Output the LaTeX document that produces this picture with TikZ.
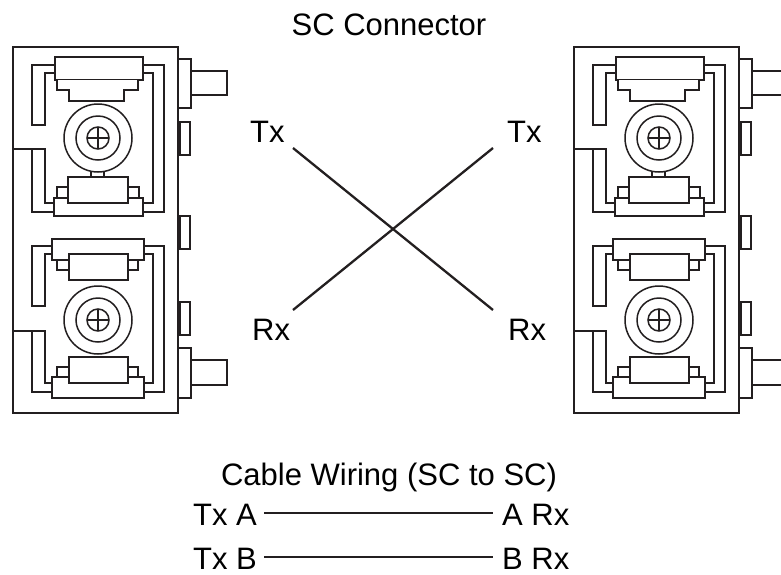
\documentclass[tikz,border=0pt]{standalone}
\usepackage{fontspec}
\setmainfont{Liberation Sans}
\usetikzlibrary{calc}
\definecolor{ink}{RGB}{35,31,32}
\newcommand\drawSCunit{%
  % housing and tabs
  \draw[part] (13,47) rectangle (178,413);
  \draw[part] (191,71) rectangle (227,95);
  \draw[part] (178,59) rectangle (191,108);
  \draw[part] (180,122) rectangle (190,155);
  \draw[part] (180,216) rectangle (190,249);
  \draw[part] (180,302) rectangle (190,335);
  \draw[part] (191,360) rectangle (227,385);
  \draw[part] (178,348) rectangle (191,398);
  % upper ferrule unit
  \draw[ln] (55,65) -- (32,65) -- (32,125) -- (45,125) -- (45,73) -- (55,73);
  \draw[ln] (143,65) -- (164,65) -- (164,212) -- (143,212);
  \draw[ln] (143,73) -- (153,73) -- (153,203) -- (143,203);
  \draw[ln] (13,149) -- (45,149) -- (45,203) -- (54,203);
  \draw[ln] (32,149) -- (32,212) -- (54,212);
  \draw[part] (55,57) rectangle (143,80);
  \draw[part] (57,80) -- (57,90) -- (69,90) -- (69,101) -- (124,101) -- (124,90) -- (138,90) -- (138,80);
  \draw[ln] (98,138) circle (34);
  \draw[ln] (98,138) circle (22);
  \draw[ln] (98,138) circle (11);
  \draw[ln] (87,138) -- (109,138) (98,127) -- (98,149);
  \draw[ln] (91,171.3) -- (91,177) (104,171.5) -- (104,177);
  \draw[part] (54,198) rectangle (143,216);
  \draw[part] (57,187) rectangle (68,198);
  \draw[part] (128,187) rectangle (139,198);
  \draw[part] (68,177) rectangle (128,203);
  % lower ferrule unit
  \draw[ln] (52,246) -- (32,246) -- (32,306) -- (45,306) -- (45,254) -- (52,254);
  \draw[ln] (144,246) -- (164,246) -- (164,392) -- (144,392);
  \draw[ln] (144,254) -- (153,254) -- (153,383) -- (144,383);
  \draw[ln] (13,331) -- (45,331) -- (45,383) -- (52,383);
  \draw[ln] (32,331) -- (32,392) -- (52,392);
  \draw[part] (52,239) rectangle (144,260);
  \draw[part] (57,260) rectangle (69,270);
  \draw[part] (128,260) rectangle (138,270);
  \draw[part] (69,254) rectangle (128,280);
  \draw[ln] (98,320) circle (34);
  \draw[ln] (98,320) circle (22);
  \draw[ln] (98,320) circle (11);
  \draw[ln] (87,320) -- (109,320) (98,309) -- (98,331);
  \draw[part] (52,377) rectangle (144,398);
  \draw[part] (57,367) rectangle (69,377);
  \draw[part] (128,367) rectangle (138,377);
  \draw[part] (69,357) rectangle (128,383);
}
\begin{document}
\begin{tikzpicture}[x=1pt,y=-1pt,
  part/.style={draw=ink, line width=1.5pt, fill=white},
  ln/.style={draw=ink, line width=1.5pt},
  lbl/.style={font=\fontsize{31}{37}\selectfont, text=black, inner sep=0pt},
  wire/.style={draw=ink, line width=2.3pt}]
\useasboundingbox (0,0) rectangle (781,574);
\clip (0,0) rectangle (781,574);
\fill[white] (0,0) rectangle (781,574);
\begin{scope}
  \drawSCunit
\end{scope}
\begin{scope}[shift={(561,0)}]
  \drawSCunit
\end{scope}
% titles and labels
\node[lbl, anchor=base] (title) at (389,35) {SC Connector};
\node[lbl, anchor=base west] (txl) at (250,142) {Tx};
\node[lbl, anchor=base west] (txr) at (507,142) {Tx};
\node[lbl, anchor=base west] (rxl) at (252,340) {Rx};
\node[lbl, anchor=base west] (rxr) at (508,340) {Rx};
% crossing fibres
\coordinate (ctl) at (293,148);
\coordinate (ctr) at (493,148);
\coordinate (cbl) at (293,310);
\coordinate (cbr) at (493,310);
\draw[wire] (ctl) -- (cbr);
\draw[wire] (ctr) -- (cbl);
% cable wiring table
\node[lbl, anchor=base] (cw) at (389,485) {Cable Wiring (SC to SC)};
\node[lbl, anchor=base east, text depth=0pt] (txa) at (257,525) {Tx A};
\node[lbl, anchor=base west, text depth=0pt] (arx) at (502,525) {A Rx};
\node[lbl, anchor=base east, text depth=0pt] (txb) at (257,569) {Tx B};
\node[lbl, anchor=base west, text depth=0pt] (brx) at (502,569) {B Rx};
\draw[wire] ($(txa.base east)+(7,-12)$) -- ($(arx.base west)+(-9,-12)$);
\draw[wire] ($(txb.base east)+(7,-12)$) -- ($(brx.base west)+(-9,-12)$);
\end{tikzpicture}
\end{document}
